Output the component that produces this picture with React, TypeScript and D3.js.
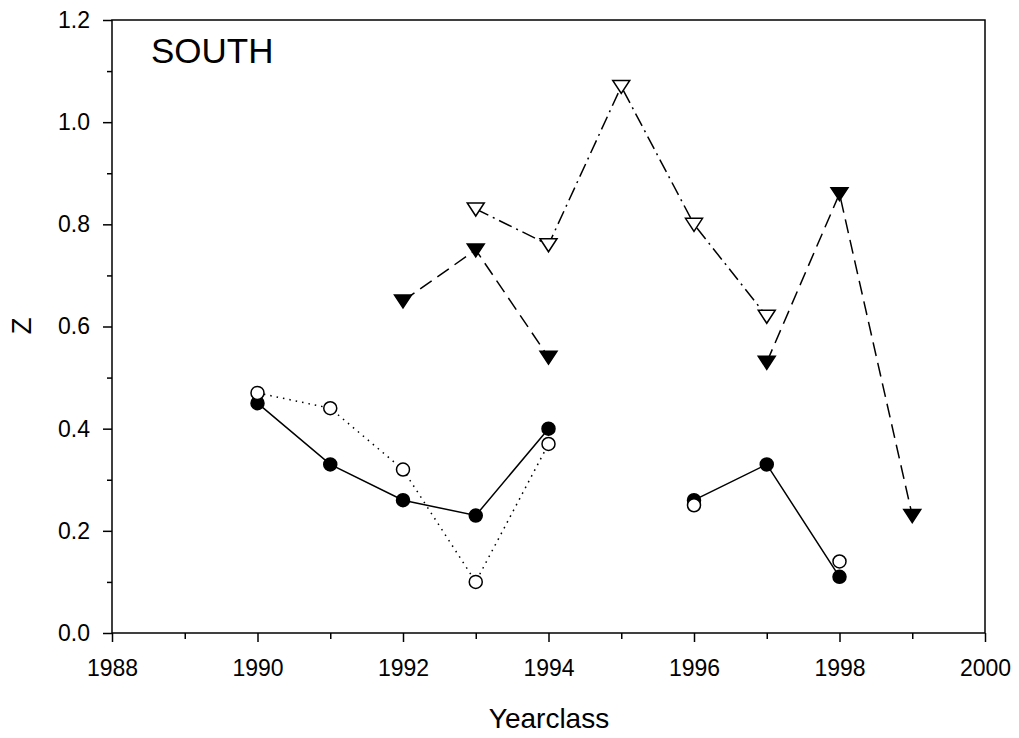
import React, { useEffect, useRef } from 'react';
import * as d3 from 'd3';

// values (null = no point that year)
const years = [1990, 1991, 1992, 1993, 1994, 1995, 1996, 1997, 1998, 1999];
const filledCircle = [0.45, 0.33, 0.26, 0.23, 0.40, null, 0.26, 0.33, 0.11, null];
const openCircle = [0.47, 0.44, 0.32, 0.10, 0.37, null, 0.25, null, 0.14, null];
const openTriangle = [null, null, null, 0.83, 0.76, 1.07, 0.80, 0.62, null, null];
const filledTriangle = [null, null, 0.65, 0.75, 0.54, null, null, 0.53, 0.86, 0.23];

const yTicks = [0, 0.2, 0.4, 0.6, 0.8, 1.0, 1.2];
const xTicks = [1988, 1990, 1992, 1994, 1996, 1998, 2000];

const W = 1019;
const H = 738;
const pad = { left: 112, right: 985, top: 20, bottom: 633 };

const App = () => {
  const ref = useRef<SVGSVGElement>(null);

  useEffect(() => {
    const svg = d3.select(ref.current);
    svg.selectAll('*').remove();

    const x = d3.scaleLinear().domain([1988, 2000]).range([pad.left, pad.right]);
    const y = d3.scaleLinear().domain([0, 1.2]).range([pad.bottom, pad.top]);
    const font = 'Arial, "Liberation Sans", sans-serif';

    // frame
    svg.append('rect')
      .attr('x', pad.left).attr('y', pad.top)
      .attr('width', pad.right - pad.left).attr('height', pad.bottom - pad.top)
      .attr('fill', 'none').attr('stroke', '#000').attr('stroke-width', 1.5);

    const styleAxis = (g: any) => {
      g.select('.domain').remove();
      g.selectAll('line').attr('stroke-width', 1.5);
      g.selectAll('text').attr('font-size', 23).attr('font-family', font).attr('fill', '#000');
    };

    // y axis: minor then major
    svg.append('g').attr('transform', `translate(${pad.left},0)`)
      .call(d3.axisLeft(y).tickValues(d3.range(0.1, 1.2, 0.2)).tickSize(5).tickFormat(() => ''))
      .call(styleAxis);
    svg.append('g').attr('transform', `translate(${pad.left},0)`)
      .call(d3.axisLeft(y).tickValues(yTicks).tickSize(9).tickPadding(13).tickFormat(d3.format('.1f')))
      .call(styleAxis);

    // x axis: minor then major
    svg.append('g').attr('transform', `translate(0,${pad.bottom})`)
      .call(d3.axisBottom(x).tickValues(d3.range(1989, 2000, 2)).tickSize(6).tickFormat(() => ''))
      .call(styleAxis);
    svg.append('g').attr('transform', `translate(0,${pad.bottom})`)
      .call(d3.axisBottom(x).tickValues(xTicks).tickSize(9).tickPadding(18).tickFormat(d3.format('d')))
      .call(styleAxis);

    const line = d3.line<any>()
      .defined((d: any) => d[1] !== null)
      .x((d: any) => x(d[0]))
      .y((d: any) => y(d[1]));

    const drawLine = (vals: (number | null)[], dash: string) => {
      svg.append('path')
        .datum(years.map((yr, i) => [yr, vals[i]]))
        .attr('d', line)
        .attr('fill', 'none')
        .attr('stroke', '#000')
        .attr('stroke-width', 1.5)
        .attr('stroke-dasharray', dash);
    };

    drawLine(openTriangle, '14,5,2,5');
    drawLine(filledTriangle, '14,7');
    drawLine(openCircle, '1.5,5');
    drawLine(filledCircle, '');

    const pts = (vals: (number | null)[]) =>
      years.map((yr, i) => ({ yr, v: vals[i] })).filter(d => d.v !== null);

    const tri = 'M-8.5,-6 L8.5,-6 L0,7 Z';
    const drawTri = (vals: (number | null)[], filled: boolean) => {
      svg.append('g').selectAll('path')
        .data(pts(vals))
        .join('path')
        .attr('transform', (d: any) => `translate(${x(d.yr)},${y(d.v)})`)
        .attr('d', tri)
        .attr('fill', filled ? '#000' : '#fff')
        .attr('stroke', '#000')
        .attr('stroke-width', 1.5);
    };
    const drawCirc = (vals: (number | null)[], filled: boolean) => {
      svg.append('g').selectAll('circle')
        .data(pts(vals))
        .join('circle')
        .attr('cx', (d: any) => x(d.yr))
        .attr('cy', (d: any) => y(d.v))
        .attr('r', 6.5)
        .attr('fill', filled ? '#000' : '#fff')
        .attr('stroke', '#000')
        .attr('stroke-width', 1.5);
    };

    drawTri(openTriangle, false);
    drawTri(filledTriangle, true);
    drawCirc(filledCircle, true);
    drawCirc(openCircle, false);

    svg.append('text')
      .attr('x', 151).attr('y', 63)
      .attr('font-size', 35).attr('font-family', font)
      .text('SOUTH');

    svg.append('text')
      .attr('x', 549).attr('y', 728)
      .attr('text-anchor', 'middle')
      .attr('font-size', 28).attr('font-family', font)
      .text('Yearclass');

    svg.append('text')
      .attr('transform', `translate(31,326) rotate(-90)`)
      .attr('text-anchor', 'middle')
      .attr('font-size', 28).attr('font-family', font)
      .text('Z');
  }, []);

  return (
    <svg ref={ref} width={W} height={H}
      style={{ position: 'absolute', left: 0, top: 0, background: '#fff' }} />
  );
};

export default App;
